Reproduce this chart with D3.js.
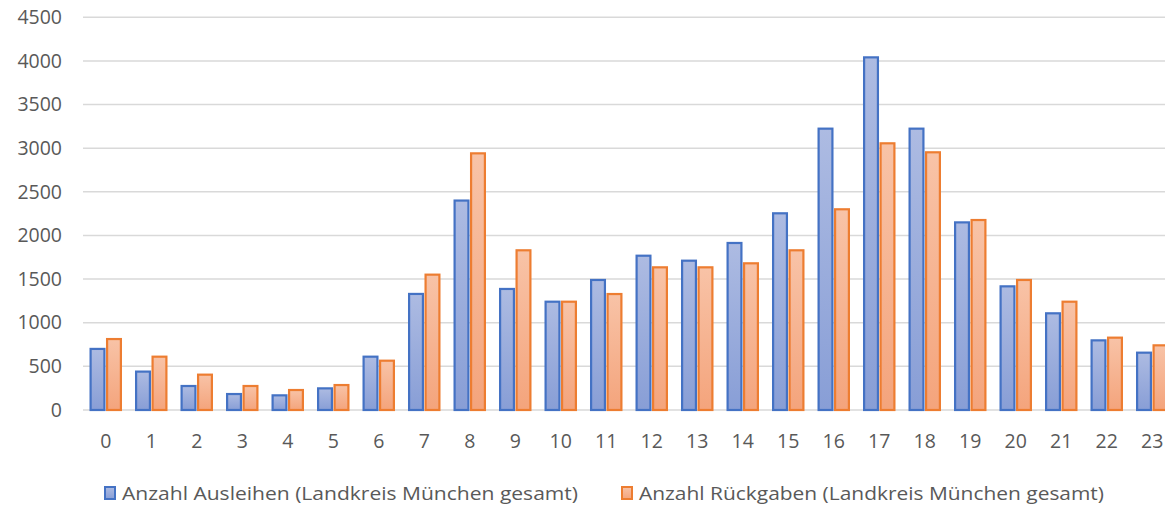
<!DOCTYPE html>
<html>
<head>
<meta charset="utf-8">
<script src="https://cdn.jsdelivr.net/npm/d3@7"></script>
<style>
  html, body { margin: 0; padding: 0; background: #fff; }
  svg { display: block; font-family: "Open Sans", "Noto Sans", sans-serif; }
</style>
</head>
<body>
<svg id="chart" width="1165" height="507"></svg>
<script>
// hourly rentals / returns, Landkreis München
const hours = d3.range(24).map(String);
const ausleihen = [700, 440, 275, 183, 168, 248, 611, 1330, 2400, 1387, 1241, 1490, 1768, 1711, 1914, 2254, 3224, 4041, 3224, 2150, 1417, 1108, 798, 657];
const rueckgaben = [813, 611, 405, 275, 229, 286, 565, 1551, 2941, 1830, 1241, 1329, 1635, 1635, 1681, 1830, 2300, 3056, 2953, 2177, 1490, 1241, 829, 741];
const yTicks = [0, 500, 1000, 1500, 2000, 2500, 3000, 3500, 4000, 4500];
const seriesNames = ['Anzahl Ausleihen (Landkreis München gesamt)', 'Anzahl Rückgaben (Landkreis München gesamt)'];

const series = [
  { key: 'a', name: seriesNames[0], values: ausleihen, stroke: '#4472c4', top: '#adbbe2', bot: '#889ed6' },
  { key: 'r', name: seriesNames[1], values: rueckgaben, stroke: '#ed7d31', top: '#f8c3a7', bot: '#f4a47c' }
];

const svg = d3.select('#chart');
const m = { l: 83, r: 1175, t: 17.3, b: 410 };

const x = d3.scaleBand().domain(hours).range([m.l, m.r]).paddingInner(0.29).paddingOuter(0.145);
const xi = d3.scaleBand().domain(series.map(s => s.key)).range([0, x.bandwidth()]).paddingInner(0.04);
const y = d3.scaleLinear().domain([0, 4500]).range([m.b, m.t]);

const defs = svg.append('defs');
series.forEach(s => {
  const g = defs.append('linearGradient').attr('id', 'g-' + s.key)
    .attr('x1', 0).attr('y1', 0).attr('x2', 0).attr('y2', 1);
  g.append('stop').attr('offset', '0%').attr('stop-color', s.top);
  g.append('stop').attr('offset', '100%').attr('stop-color', s.bot);
});

// gridlines
svg.append('g').selectAll('line').data(yTicks).join('line')
  .attr('x1', m.l).attr('x2', 1165)
  .attr('y1', d => y(d)).attr('y2', d => y(d))
  .attr('stroke', '#d9d9d9').attr('stroke-width', 1.5);

// y axis labels
const yAxis = svg.append('g').attr('transform', 'translate(62,0)')
  .call(d3.axisLeft(y).tickValues(yTicks).tickFormat(d3.format('d')).tickSize(0).tickPadding(0));
yAxis.select('.domain').remove();
yAxis.selectAll('text').attr('font-family', '"Open Sans", sans-serif').attr('font-size', 19.5).attr('fill', '#595959');

// x axis labels
const xAxis = svg.append('g').attr('transform', `translate(0,${m.b})`)
  .call(d3.axisBottom(x).tickSize(0).tickPadding(24));
xAxis.select('.domain').remove();
xAxis.selectAll('text').attr('font-family', '"Open Sans", sans-serif').attr('font-size', 19.5).attr('fill', '#595959');

// bars
series.forEach(s => {
  svg.append('g').selectAll('rect').data(s.values).join('rect')
    .attr('x', (d, i) => x(hours[i]) + xi(s.key) + 1)
    .attr('y', d => y(d))
    .attr('width', xi.bandwidth() - 2)
    .attr('height', d => y(0) - y(d))
    .attr('fill', `url(#g-${s.key})`)
    .attr('stroke', s.stroke).attr('stroke-width', 2.2);
});

// legend
const legX = [104, 621];
const leg = svg.append('g');
series.forEach((s, i) => {
  const g = leg.append('g').attr('transform', `translate(${legX[i]},487)`);
  g.append('rect').attr('x', 1).attr('y', 0).attr('width', 10).attr('height', 12)
    .attr('fill', `url(#g-${s.key})`).attr('stroke', s.stroke).attr('stroke-width', 2);
  g.append('text').attr('x', 18).attr('y', 12.5)
    .attr('font-family', '"Open Sans", sans-serif').attr('font-size', 17.5).attr('fill', '#595959')
    .attr('textLength', i === 0 ? 456 : 465).attr('lengthAdjust', 'spacingAndGlyphs')
    .text(s.name);
});
</script>
</body>
</html>
